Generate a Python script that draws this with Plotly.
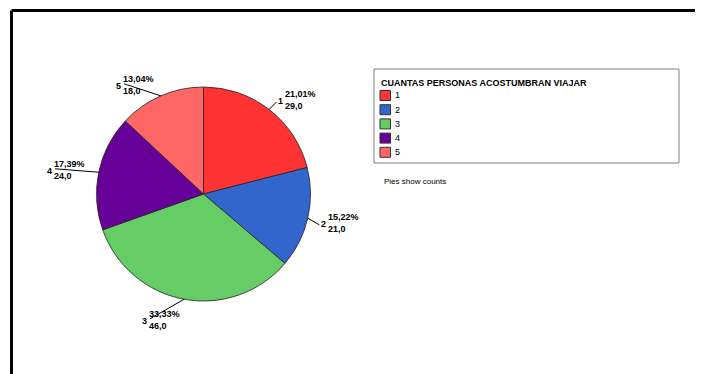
import math
import plotly.graph_objects as go

# ---- data ----
categories = ["1", "2", "3", "4", "5"]
counts = [29, 21, 46, 24, 18]
colors = ["#FF3333", "#3366CC", "#66CC66", "#660099", "#FF6666"]
legend_title = "CUANTAS PERSONAS ACOSTUMBRAN VIAJAR"
note_text = "Pies show counts"

W, H = 703, 374
OFF = 8  # page body margin compensation
CX, CY, R = 203.5, 194.0, 107.0  # pie centre / radius in screen pixels

def px(x):
    return (x - OFF) / W

def py(y):
    return 1 - (y - OFF) / H

total = sum(counts)
pct = [c / total * 100 for c in counts]

fig = go.Figure()
fig.add_trace(go.Pie(
    labels=categories, values=counts, sort=False, direction="clockwise",
    rotation=0, textinfo="none", hoverinfo="label+value+percent",
    marker=dict(colors=colors, line=dict(color="#222222", width=0.8)),
    domain=dict(x=[px(CX - R), px(CX + R)], y=[py(CY + R), py(CY - R)]),
    showlegend=False,
))

shapes = []
annotations = []
LF = "Liberation Sans"

# frame (top & left heavy lines)
shapes.append(dict(type="line", xref="paper", yref="paper", x0=px(11.5), x1=1.0,
                   y0=py(10.5), y1=py(10.5), line=dict(color="black", width=3)))
shapes.append(dict(type="line", xref="paper", yref="paper", x0=px(11.5), x1=px(11.5),
                   y0=py(10.5), y1=0, line=dict(color="black", width=3)))

# slice labels with leader lines
cum = 0.0
for cat, c, p in zip(categories, counts, pct):
    mid = (cum + c / 2) / total * 2 * math.pi
    cum += c
    dx, dy = math.sin(mid), -math.cos(mid)
    ex, ey = CX + R * dx, CY + R * dy
    ax, ay = CX + (R + 12) * dx, CY + (R + 12) * dy
    if dy > 0:
        ay += 9 * dy
    ptxt = f"{p:.2f}".replace(".", ",") + "%"
    ctxt = f"{c:.1f}".replace(".", ",")
    block = f"{ptxt}<br>{ctxt}"
    if dx > 0:
        nx, tx, t_anchor = ax, ax + 7, "left"
        lx, ly = ax, ay + 2
        n_anchor = "left"
    else:
        tx, t_anchor = ax, "right"
        nx = ax - 33
        n_anchor = "right"
        lx, ly = nx + 1, ay - 1
    shapes.append(dict(type="line", xref="paper", yref="paper",
                       x0=px(ex), y0=py(ey), x1=px(lx), y1=py(ly),
                       line=dict(color="black", width=1)))
    annotations.append(dict(text=f"<b>{cat}</b>", x=px(nx), y=py(ay + 1), xref="paper", yref="paper",
                            xanchor=n_anchor, yanchor="middle", showarrow=False,
                            font=dict(family=LF, size=9, color="black")))
    annotations.append(dict(text=f"<b>{block}</b>", x=px(tx), y=py(ay), xref="paper", yref="paper",
                            xanchor=t_anchor, yanchor="middle", showarrow=False, align="left",
                            font=dict(family=LF, size=9, color="black")))

# legend box (drawn manually)
LX0, LY0, LX1, LY1 = 374, 69, 679, 163
shapes.append(dict(type="rect", xref="paper", yref="paper", x0=px(LX0), x1=px(LX1),
                   y0=py(LY1), y1=py(LY0), line=dict(color="#7f7f7f", width=1),
                   fillcolor="white", layer="below"))
annotations.append(dict(text=f"<b>{legend_title}</b>", x=px(379), y=py(83), xref="paper",
                        yref="paper", xanchor="left", yanchor="middle", showarrow=False,
                        font=dict(family=LF, size=9, color="black")))
for i, (cat, col) in enumerate(zip(categories, colors)):
    yc = 95.5 + i * 14.2
    shapes.append(dict(type="rect", xref="paper", yref="paper", x0=px(380), x1=px(390.5),
                       y0=py(yc + 5), y1=py(yc - 5), fillcolor=col,
                       line=dict(color="#333333", width=1)))
    annotations.append(dict(text=cat, x=px(393), y=py(yc), xref="paper", yref="paper",
                            xanchor="left", yanchor="middle", showarrow=False,
                            font=dict(family=LF, size=9, color="black")))

annotations.append(dict(text=note_text, x=px(382), y=py(181), xref="paper", yref="paper",
                        xanchor="left", yanchor="middle", showarrow=False,
                        font=dict(family=LF, size=8, color="black")))

fig.update_layout(
    width=W, height=H, margin=dict(l=0, r=0, t=0, b=0),
    paper_bgcolor="white", plot_bgcolor="white",
    shapes=shapes, annotations=annotations,
)
fig.write_html("out.html")
